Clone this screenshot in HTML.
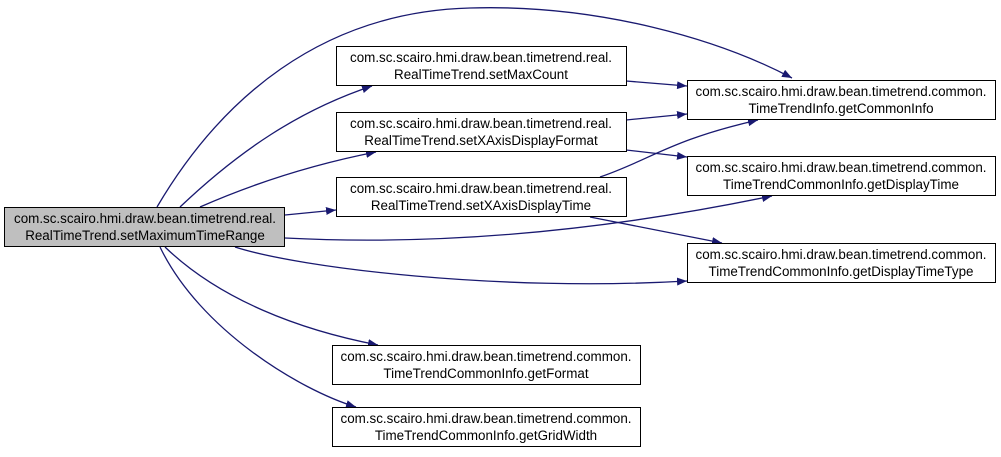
<!DOCTYPE html>
<html><head><meta charset="utf-8"><style>
body{margin:0;background:#fff;}
svg{display:block;}
text{font-family:"Liberation Sans",Arial,sans-serif;font-size:13.4px;fill:#000;}
</style></head><body>
<svg width="1001" height="457" viewBox="0 0 1001 457" xmlns="http://www.w3.org/2000/svg">
<defs><marker id="a" markerWidth="10" markerHeight="8" refX="10" refY="4" orient="auto" markerUnits="userSpaceOnUse"><path d="M0,0 L10,4 L0,8 Z" fill="#191970"/></marker></defs>
<g fill="none" stroke="#191970" stroke-width="1.3" marker-end="url(#a)">
<path d="M157,207 C220,100 320,12 470,8 C600,4 720,40 792,78"/>
<path d="M180,207 C240,150 300,110 372,86"/>
<path d="M200,207 C250,185 310,165 376,152"/>
<path d="M285,215 L336,210"/>
<path d="M285,238 C400,244 560,240 772,196"/>
<path d="M235,247 C300,268 500,292 687,281"/>
<path d="M165,247 C220,300 300,330 378,345"/>
<path d="M160,247 C200,330 300,390 356,407"/>
<path d="M626,81 L687,86"/>
<path d="M626,120 L687,114"/>
<path d="M626,150 L687,157"/>
<path d="M600,177 C650,160 670,140 758,120"/>
<path d="M590,217 L722,243"/>
</g>
<g stroke="#000" stroke-width="1">
<rect x="4.5" y="207.5" width="280" height="39" fill="#bfbfbf"/>
<rect x="336.5" y="46.5" width="290" height="39" fill="#fff"/>
<rect x="336.5" y="112.5" width="290" height="39" fill="#fff"/>
<rect x="336.5" y="177.5" width="290" height="39" fill="#fff"/>
<rect x="687.5" y="80.5" width="308" height="39" fill="#fff"/>
<rect x="687.5" y="156.5" width="308" height="39" fill="#fff"/>
<rect x="687.5" y="243.5" width="308" height="39" fill="#fff"/>
<rect x="332.5" y="345.5" width="308" height="39" fill="#fff"/>
<rect x="332.5" y="407.5" width="308" height="39" fill="#fff"/>
</g>
<g text-anchor="middle">
<text x="145" y="223">com.sc.scairo.hmi.draw.bean.timetrend.real.</text>
<text x="145" y="240">RealTimeTrend.setMaximumTimeRange</text>
<text x="481" y="62">com.sc.scairo.hmi.draw.bean.timetrend.real.</text>
<text x="481" y="79">RealTimeTrend.setMaxCount</text>
<text x="481" y="128">com.sc.scairo.hmi.draw.bean.timetrend.real.</text>
<text x="481" y="145">RealTimeTrend.setXAxisDisplayFormat</text>
<text x="481" y="193">com.sc.scairo.hmi.draw.bean.timetrend.real.</text>
<text x="481" y="210">RealTimeTrend.setXAxisDisplayTime</text>
<text x="841" y="96">com.sc.scairo.hmi.draw.bean.timetrend.common.</text>
<text x="841" y="113">TimeTrendInfo.getCommonInfo</text>
<text x="841" y="172">com.sc.scairo.hmi.draw.bean.timetrend.common.</text>
<text x="841" y="189">TimeTrendCommonInfo.getDisplayTime</text>
<text x="841" y="259">com.sc.scairo.hmi.draw.bean.timetrend.common.</text>
<text x="841" y="276">TimeTrendCommonInfo.getDisplayTimeType</text>
<text x="486" y="361">com.sc.scairo.hmi.draw.bean.timetrend.common.</text>
<text x="486" y="378">TimeTrendCommonInfo.getFormat</text>
<text x="486" y="423">com.sc.scairo.hmi.draw.bean.timetrend.common.</text>
<text x="486" y="440">TimeTrendCommonInfo.getGridWidth</text>
</g>
</svg>
</body></html>
